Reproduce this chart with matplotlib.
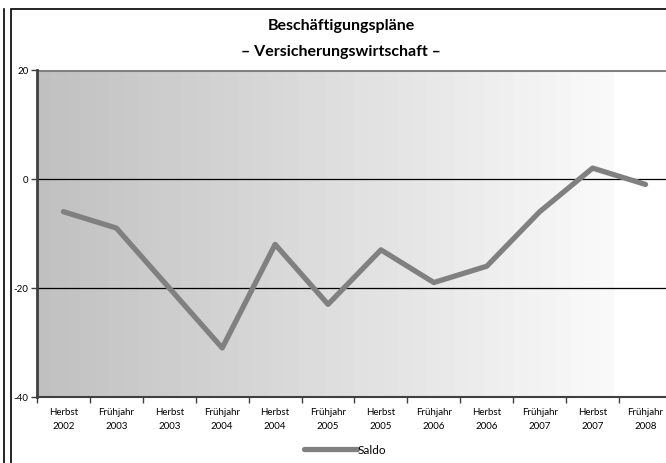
import numpy as np
import matplotlib
matplotlib.use("Agg")
import matplotlib.pyplot as plt
from matplotlib.lines import Line2D
from matplotlib.patches import Rectangle

plt.rcParams['font.family'] = ['Lato', 'DejaVu Sans']

# Daten
perioden = ["Herbst\n2002", "Frühjahr\n2003", "Herbst\n2003", "Frühjahr\n2004",
            "Herbst\n2004", "Frühjahr\n2005", "Herbst\n2005", "Frühjahr\n2006",
            "Herbst\n2006", "Frühjahr\n2007", "Herbst\n2007", "Frühjahr\n2008"]
saldo = [-6, -9, -20, -31, -12, -23, -13, -19, -16, -6, 2, -1]
y_ticks = [-40, -20, 0, 20]

W, H = 666, 464
fig = plt.figure(figsize=(W / 100, H / 100), dpi=100)

# Rahmen
fig.add_artist(Line2D([4 / W, 4 / W], [0, 1 - 10 / H], color="black", lw=1.2,
                      transform=fig.transFigure))
fig.add_artist(Rectangle((11 / W, -0.05), 1.2, 1 - 10 / H + 0.05, fill=False,
                         edgecolor="black", lw=1.2, transform=fig.transFigure))

# Plotbereich (rechts abgeschnitten wie im Original)
x0, x1 = 37, 672
y0, y1 = 71, 398
ax = fig.add_axes([x0 / W, 1 - y1 / H, (x1 - x0) / W, (y1 - y0) / H])

n = len(perioden)
x = np.arange(n)
ax.set_xlim(-0.5, n - 0.5)
ax.set_ylim(-40, 20)

# Farbverlauf im Hintergrund
grad = np.linspace(192, 249, 40)[None, :]
frac = (614 - x0) / (x1 - x0)
ax.imshow(grad, cmap="gray", vmin=0, vmax=255, aspect="auto",
          extent=(0, frac, 0, 1), transform=ax.transAxes, zorder=0,
          interpolation="nearest")

for v in [0, -20]:
    ax.axhline(v, color="black", lw=0.9, zorder=1)
ax.axhline(20, color="#808080", lw=2.2, zorder=1)

ax.plot(x, saldo, color="#808080", lw=3.8, solid_capstyle="round",
        solid_joinstyle="round", zorder=3, label="Saldo")

for s in ["top", "right"]:
    ax.spines[s].set_visible(False)
ax.spines["left"].set_color("#404040")
ax.spines["left"].set_linewidth(2)
ax.spines["bottom"].set_color("#404040")
ax.spines["bottom"].set_linewidth(1.5)

ax.set_xticks(np.arange(n + 1) - 0.5, minor=False)
ax.set_xticklabels([])
ax.set_xticks(x, minor=True)
ax.set_xticklabels(perioden, minor=True, fontsize=7, linespacing=1.7)
ax.tick_params(axis="x", which="minor", length=0, pad=7)
ax.tick_params(axis="x", which="major", length=4, width=1, color="#404040")
ax.set_yticks(y_ticks)
ax.set_yticklabels([str(v) for v in y_ticks], fontsize=7)
ax.tick_params(axis="y", length=4, width=1, color="#404040", pad=2)

fig.text(341 / W, 1 - 26 / H, "Beschäftigungspläne", ha="center", va="center",
         fontsize=11.5, fontweight="bold")
fig.text(341 / W, 1 - 52 / H, "– Versicherungswirtschaft –", ha="center",
         va="center", fontsize=11.5, fontweight="bold")

fig.legend(loc="center", bbox_to_anchor=(345 / W, 1 - 451 / H), frameon=False,
           fontsize=8.5, handlelength=4.5, handletextpad=0.1, borderpad=0)

fig.savefig("out.png", dpi=100)
